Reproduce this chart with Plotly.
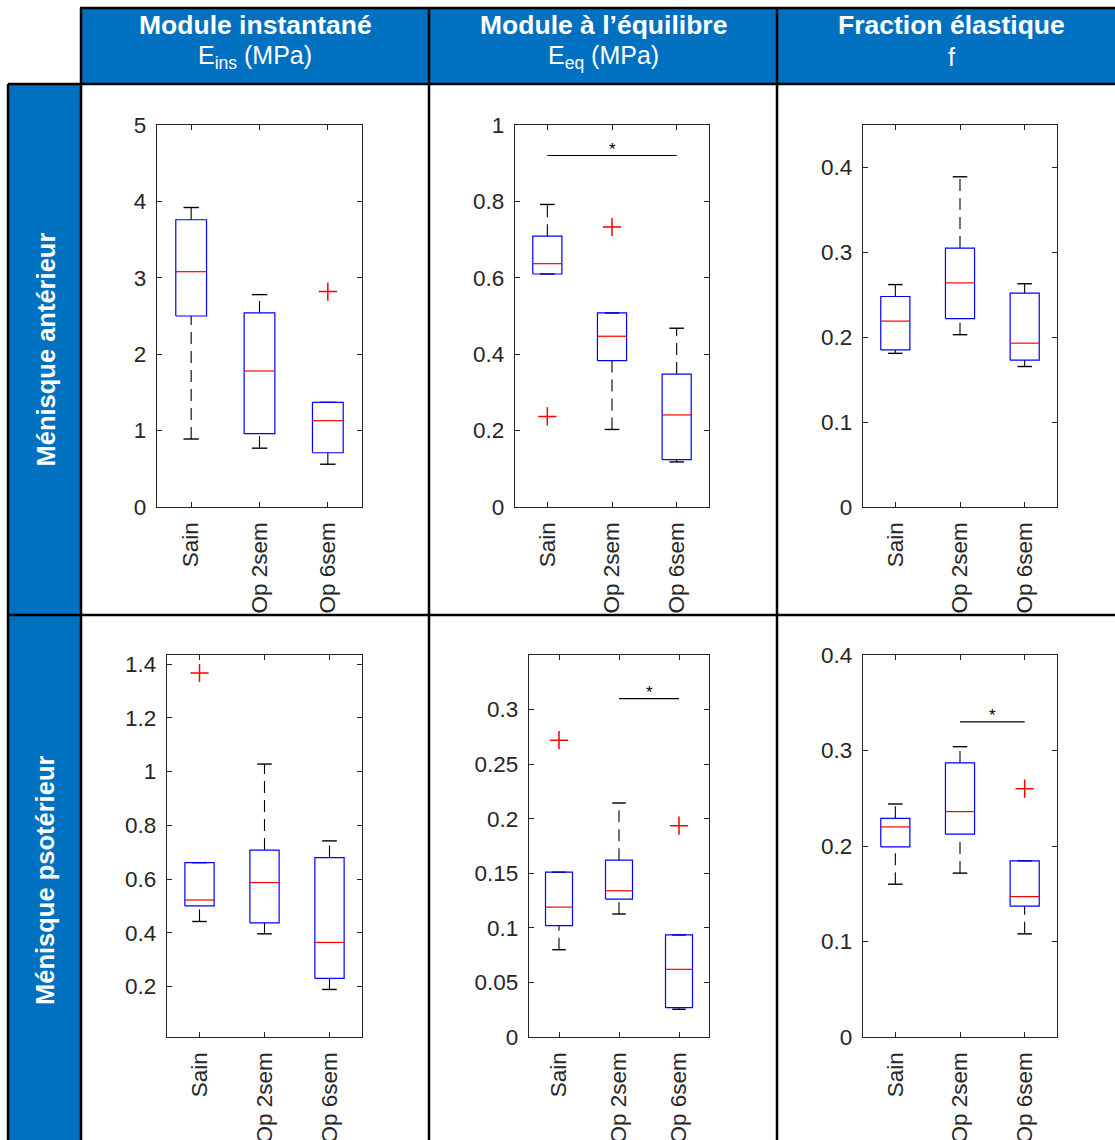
import plotly.graph_objects as go

# ---------------- data ----------------
GROUPS = ["Sain", "Op 2sem", "Op 6sem"]

COL_TITLES = ["Module instantané", "Module à l’équilibre", "Fraction élastique"]
COL_UNITS = ["E<sub>ins</sub> (MPa)", "E<sub>eq</sub> (MPa)", "f"]
ROW_TITLES = ["Ménisque antérieur", "Ménisque psotérieur"]

# Ménisque antérieur - E ins
EINS_ANT_LOW = [0.89, 0.77, 0.56]
EINS_ANT_Q1 = [2.50, 0.96, 0.71]
EINS_ANT_MED = [3.08, 1.78, 1.13]
EINS_ANT_Q3 = [3.76, 2.54, 1.37]
EINS_ANT_HIGH = [3.92, 2.78, 1.37]
EINS_ANT_OUT = [[], [], [2.82]]

# Ménisque antérieur - E eq
EEQ_ANT_LOW = [0.61, 0.203, 0.118]
EEQ_ANT_Q1 = [0.61, 0.383, 0.124]
EEQ_ANT_MED = [0.637, 0.447, 0.241]
EEQ_ANT_Q3 = [0.709, 0.508, 0.348]
EEQ_ANT_HIGH = [0.792, 0.508, 0.468]
EEQ_ANT_OUT = [[0.237], [0.733], []]

# Ménisque antérieur - f
F_ANT_LOW = [0.181, 0.203, 0.1655]
F_ANT_Q1 = [0.185, 0.222, 0.173]
F_ANT_MED = [0.219, 0.264, 0.193]
F_ANT_Q3 = [0.248, 0.305, 0.252]
F_ANT_HIGH = [0.262, 0.389, 0.263]
F_ANT_OUT = [[], [], []]

# Ménisque postérieur - E ins
EINS_POST_LOW = [0.442, 0.396, 0.189]
EINS_POST_Q1 = [0.500, 0.437, 0.230]
EINS_POST_MED = [0.522, 0.587, 0.364]
EINS_POST_Q3 = [0.661, 0.708, 0.680]
EINS_POST_HIGH = [0.661, 1.028, 0.742]
EINS_POST_OUT = [[1.367], [], []]

# Ménisque postérieur - E eq
EEQ_POST_LOW = [0.080, 0.1127, 0.0254]
EEQ_POST_Q1 = [0.102, 0.1264, 0.0269]
EEQ_POST_MED = [0.119, 0.134, 0.062]
EEQ_POST_Q3 = [0.151, 0.162, 0.0935]
EEQ_POST_HIGH = [0.151, 0.2144, 0.0935]
EEQ_POST_OUT = [[0.272], [], [0.1936]]

# Ménisque postérieur - f
F_POST_LOW = [0.160, 0.1716, 0.108]
F_POST_Q1 = [0.199, 0.2124, 0.137]
F_POST_MED = [0.220, 0.236, 0.147]
F_POST_Q3 = [0.229, 0.287, 0.1845]
F_POST_HIGH = [0.244, 0.304, 0.1845]
F_POST_OUT = [[], [], [0.260]]

# significance bars: (group index from, group index to, level)
SIG_EEQ_ANT = [(0, 2, 0.92)]
SIG_EEQ_POST = [(1, 2, 0.31)]
SIG_F_POST = [(1, 2, 0.33)]

# y tick labels
TICKS_EINS_ANT = ["0", "1", "2", "3", "4", "5"]
TICKS_EEQ_ANT = ["0", "0.2", "0.4", "0.6", "0.8", "1"]
TICKS_F_ANT = ["0", "0.1", "0.2", "0.3", "0.4"]
TICKS_EINS_POST = ["0.2", "0.4", "0.6", "0.8", "1", "1.2", "1.4"]
TICKS_EEQ_POST = ["0", "0.05", "0.1", "0.15", "0.2", "0.25", "0.3"]
TICKS_F_POST = ["0", "0.1", "0.2", "0.3", "0.4"]

# ---------------- layout helpers ----------------
OFF = 0          # body margin removed by post_script
W, H = 1115, 1140
BLUE = "#0070C0"
AX = "#262626"
FONT = "Liberation Sans"


def px(x):
    return (x - OFF) / W


def py(y):
    return 1 - (y - OFF) / H


panels = [
    dict(stats=(EINS_ANT_LOW, EINS_ANT_Q1, EINS_ANT_MED, EINS_ANT_Q3, EINS_ANT_HIGH, EINS_ANT_OUT),
         yr=[0, 5], ticks=TICKS_EINS_ANT, sig=[], box=(157, 362, 125, 507)),
    dict(stats=(EEQ_ANT_LOW, EEQ_ANT_Q1, EEQ_ANT_MED, EEQ_ANT_Q3, EEQ_ANT_HIGH, EEQ_ANT_OUT),
         yr=[0, 1], ticks=TICKS_EEQ_ANT, sig=SIG_EEQ_ANT, box=(515, 709, 125, 507)),
    dict(stats=(F_ANT_LOW, F_ANT_Q1, F_ANT_MED, F_ANT_Q3, F_ANT_HIGH, F_ANT_OUT),
         yr=[0, 0.45], ticks=TICKS_F_ANT, sig=[], box=(863, 1057, 125, 507)),
    dict(stats=(EINS_POST_LOW, EINS_POST_Q1, EINS_POST_MED, EINS_POST_Q3, EINS_POST_HIGH, EINS_POST_OUT),
         yr=[0.012, 1.434], ticks=TICKS_EINS_POST, sig=[], box=(167, 362, 655, 1037)),
    dict(stats=(EEQ_POST_LOW, EEQ_POST_Q1, EEQ_POST_MED, EEQ_POST_Q3, EEQ_POST_HIGH, EEQ_POST_OUT),
         yr=[0, 0.35], ticks=TICKS_EEQ_POST, sig=SIG_EEQ_POST, box=(529, 709, 655, 1037)),
    dict(stats=(F_POST_LOW, F_POST_Q1, F_POST_MED, F_POST_Q3, F_POST_HIGH, F_POST_OUT),
         yr=[0, 0.4], ticks=TICKS_F_POST, sig=SIG_F_POST, box=(863, 1057, 655, 1037)),
]

POS = [i + 1 for i in range(len(GROUPS))]
HW = 0.225   # box half width
CW = 0.1125  # cap half width

fig = go.Figure()
annotations = []
layout_axes = {}

for i, p in enumerate(panels, start=1):
    xa = "x" if i == 1 else f"x{i}"
    ya = "y" if i == 1 else f"y{i}"
    low, q1, med, q3, high, out = p["stats"]

    wx, wy, cx, cy, bx, by, mx, my, ox, oy = [], [], [], [], [], [], [], [], [], []
    for k, c in enumerate(POS):
        wx += [c, c, None, c, c, None]
        wy += [q3[k], high[k], None, low[k], q1[k], None]
        cx += [c - CW, c + CW, None, c - CW, c + CW, None]
        cy += [high[k], high[k], None, low[k], low[k], None]
        bx += [c - HW, c + HW, c + HW, c - HW, c - HW, None]
        by += [q1[k], q1[k], q3[k], q3[k], q1[k], None]
        mx += [c - HW, c + HW, None]
        my += [med[k], med[k], None]
        for v in out[k]:
            ox.append(c)
            oy.append(v)

    common = dict(xaxis=xa, yaxis=ya, showlegend=False, hoverinfo="skip")
    fig.add_trace(go.Scatter(x=wx, y=wy, mode="lines",
                             line=dict(color="black", width=1.1, dash="12px,7px"), **common))
    fig.add_trace(go.Scatter(x=cx, y=cy, mode="lines",
                             line=dict(color="black", width=1.4), **common))
    fig.add_trace(go.Scatter(x=bx, y=by, mode="lines",
                             line=dict(color="#0000FF", width=1.2), **common))
    fig.add_trace(go.Scatter(x=mx, y=my, mode="lines",
                             line=dict(color="#FF0000", width=1.2), **common))
    if ox:
        fig.add_trace(go.Scatter(x=ox, y=oy, mode="markers",
                                 marker=dict(symbol="cross-thin", size=13,
                                             line=dict(color="#FF0000", width=1.5)),
                                 **common))
    for (g0, g1, lvl) in p["sig"]:
        fig.add_trace(go.Scatter(x=[POS[g0], POS[g1]], y=[lvl, lvl], mode="lines",
                                 line=dict(color="black", width=1.1), **common))
        annotations.append(dict(x=(POS[g0] + POS[g1]) / 2, y=lvl, xref=xa, yref=ya,
                                text="*", showarrow=False, xanchor="center", yanchor="bottom",
                                yshift=-5,
                                font=dict(size=17, color="black", family=FONT)))

    x0, x1, y0, y1 = p["box"]
    tvals = [float(t) for t in p["ticks"]]
    layout_axes["xaxis" if i == 1 else f"xaxis{i}"] = dict(
        domain=[px(x0), px(x1)], anchor=ya, range=[0.5, 3.5],
        tickvals=POS, ticktext=GROUPS, tickangle=-90,
        ticks="inside", ticklen=5, tickcolor=AX, tickwidth=1.2,
        showline=True, linecolor=AX, linewidth=1.4, mirror="ticks",
        showgrid=False, zeroline=False, ticklabelstandoff=5, automargin=False,
        tickfont=dict(size=22.5, color=AX, family=FONT), fixedrange=True)
    layout_axes["yaxis" if i == 1 else f"yaxis{i}"] = dict(
        domain=[py(y1), py(y0)], anchor=xa, range=p["yr"],
        tickvals=tvals, ticktext=p["ticks"],
        ticks="inside", ticklen=5, tickcolor=AX, tickwidth=1.2,
        showline=True, linecolor=AX, linewidth=1.4, mirror="ticks",
        showgrid=False, zeroline=False, ticklabelstandoff=5, automargin=False,
        tickfont=dict(size=22.5, color=AX, family=FONT), fixedrange=True)

# ---------------- table frame ----------------
COLX = [81, 429, 777, 1125]
ROWY = [84, 615, 1147]
shapes = []
shapes.append(dict(type="rect", xref="paper", yref="paper", x0=px(COLX[0]), x1=px(COLX[-1]),
                   y0=py(ROWY[0]), y1=py(8), fillcolor=BLUE, line=dict(width=0), layer="below"))
shapes.append(dict(type="rect", xref="paper", yref="paper", x0=px(8), x1=px(COLX[0]),
                   y0=py(ROWY[-1]), y1=py(ROWY[0]), fillcolor=BLUE, line=dict(width=0), layer="below"))


def hline(y, xa, xb):
    shapes.append(dict(type="line", xref="paper", yref="paper", x0=px(xa), x1=px(xb),
                       y0=py(y), y1=py(y), line=dict(color="black", width=2.5)))


def vline(x, ya, yb):
    shapes.append(dict(type="line", xref="paper", yref="paper", x0=px(x), x1=px(x),
                       y0=py(ya), y1=py(yb), line=dict(color="black", width=2.5)))


hline(8, COLX[0] - 1, COLX[-1])
for y in ROWY:
    hline(y, 8, COLX[-1])
vline(8, ROWY[0], ROWY[-1])
for x in COLX:
    vline(x, 8, ROWY[-1])

# header texts
for j, (t, u) in enumerate(zip(COL_TITLES, COL_UNITS)):
    xc = (COLX[j] + COLX[j + 1]) / 2
    annotations.append(dict(x=px(xc), y=py(25), xref="paper", yref="paper", text=f"<b>{t}</b>",
                            showarrow=False, xanchor="center", yanchor="middle",
                            font=dict(size=26.5, color="white", family=FONT)))
    annotations.append(dict(x=px(xc), y=py(57), xref="paper", yref="paper", text=u,
                            showarrow=False, xanchor="center", yanchor="middle",
                            font=dict(size=25, color="white", family=FONT)))
for r, t in enumerate(ROW_TITLES):
    yc = (ROWY[r] + ROWY[r + 1]) / 2
    annotations.append(dict(x=px(45), y=py(yc), xref="paper", yref="paper", text=f"<b>{t}</b>",
                            textangle=-90, showarrow=False, xanchor="center", yanchor="middle",
                            font=dict(size=25.5, color="white", family=FONT)))

fig.update_layout(
    width=W, height=H, margin=dict(l=0, r=0, t=0, b=0, autoexpand=False),
    paper_bgcolor="white", plot_bgcolor="white",
    shapes=shapes, annotations=annotations, **layout_axes)

fig.write_html("out.html", config={"displayModeBar": False},
               post_script="document.body.style.margin='0px';document.body.style.overflow='hidden';")
